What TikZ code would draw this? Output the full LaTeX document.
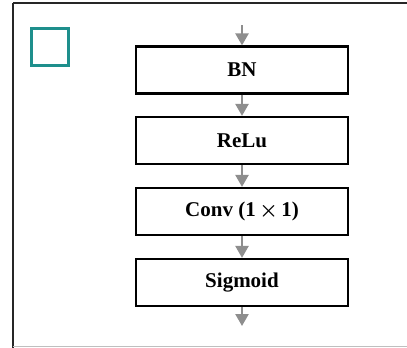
\documentclass[tikz,border=0pt]{standalone}
\usepackage{fontspec}
\setmainfont{Liberation Serif}
\usetikzlibrary{arrows.meta}
\definecolor{tealc}{HTML}{1E8F8C}
\definecolor{arrgray}{HTML}{8E8E8E}
\begin{document}
\begin{tikzpicture}[x=1pt,y=1pt,
  layer/.style={draw=black, line width=2.2pt, fill=white, minimum width=212pt, minimum height=47pt, inner sep=0pt, font=\fontsize{21}{24}\selectfont\bfseries},
  flow/.style={draw=arrgray, line width=2.4pt, -{Triangle[width=13pt,length=12pt]}}]
\useasboundingbox (0,0) rectangle (407,-348);
% frame
\draw[line width=1.6pt, black!85] (13,-3) -- (409,-3);
\draw[line width=1.6pt, black!85] (13,-3) -- (13,-349);
\draw[line width=1.2pt, black!25] (13,-346.5) -- (409,-346.5);
% teal square
\draw[tealc, line width=3.5pt] (31.5,-28.5) rectangle (68.5,-65.5);
% layers
\node[layer] (bn) at (242,-70) {BN};
\node[layer] (relu) at (242,-140.5) {ReLu};
\node[layer] (conv) at (242,-211.5) {Conv (1\,{\boldmath$\times$}\,1)};
\node[layer] (sig) at (242,-282.5) {Sigmoid};
\coordinate (in) at (242,-25);
\coordinate (out) at (242,-326);
\draw[flow] (in) -- (bn.north);
\draw[flow] (bn.south) -- (relu.north);
\draw[flow] (relu.south) -- (conv.north);
\draw[flow] (conv.south) -- (sig.north);
\draw[flow] (sig.south) -- (out);
\end{tikzpicture}
\end{document}
